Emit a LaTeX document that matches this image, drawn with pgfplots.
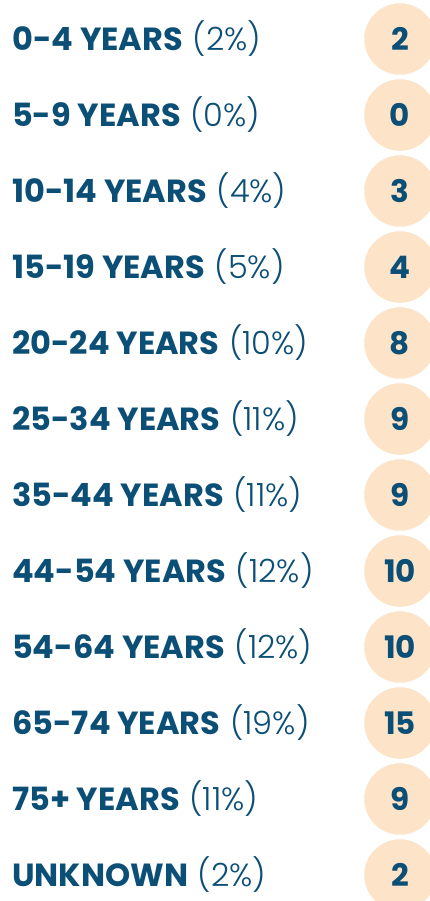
\documentclass[border=0pt]{standalone}
\usepackage{pgfplots}
\usepackage{pgfplotstable}
\pgfplotsset{compat=1.18}
\usepackage{fontspec}
\setmainfont{Poppins}
\newfontfamily\lightfont{Poppins Light}
\definecolor{navy}{RGB}{11,78,118}
\definecolor{peach}{RGB}{253,228,200}
\pgfplotstableread[col sep=comma]{
row,count,name,pct
0,2,0-4 YEARS,2
1,0,5-9 YEARS,0
2,3,10-14 YEARS,4
3,4,15-19 YEARS,5
4,8,20-24 YEARS,10
5,9,25-34 YEARS,11
6,9,35-44 YEARS,11
7,10,44-54 YEARS,12
8,10,54-64 YEARS,12
9,15,65-74 YEARS,19
10,9,75+ YEARS,11
11,2,UNKNOWN,2
}\data
\begin{document}
\begin{tikzpicture}
\begin{axis}[
  name=ax,
  width=430bp, height=901bp, scale only axis,
  hide axis,
  xmin=0, xmax=430,
  ymin=-0.513, ymax=11.342, y dir=reverse,
  clip mode=global,
]
\addplot[only marks, mark=*, mark size=35.5bp, color=peach,
  point meta=explicit symbolic,
  nodes near coords={\textbf{\pgfplotspointmeta}},
  every node near coord/.append style={anchor=center, text=navy, font=\fontsize{31bp}{37bp}\selectfont}
] table[x expr=400, y=row, meta=count] {\data};
\addplot[only marks, mark=none,
  point meta=explicit symbolic,
  visualization depends on={\thisrow{pct}\as\pct},
  nodes near coords={\textbf{\pgfplotspointmeta}\hspace{0.3em}{\lightfont(\pgfmathprintnumber[fixed,precision=0,assume math mode=true]{\pct}\%)}},
  every node near coord/.append style={anchor=west, inner sep=0pt, text=navy, font=\fontsize{32bp}{38bp}\selectfont}
] table[x expr=12, y=row, meta=name] {\data};
\end{axis}
\pgfresetboundingbox
\path[use as bounding box] (ax.south west) rectangle (ax.north east);
\end{tikzpicture}
\end{document}
